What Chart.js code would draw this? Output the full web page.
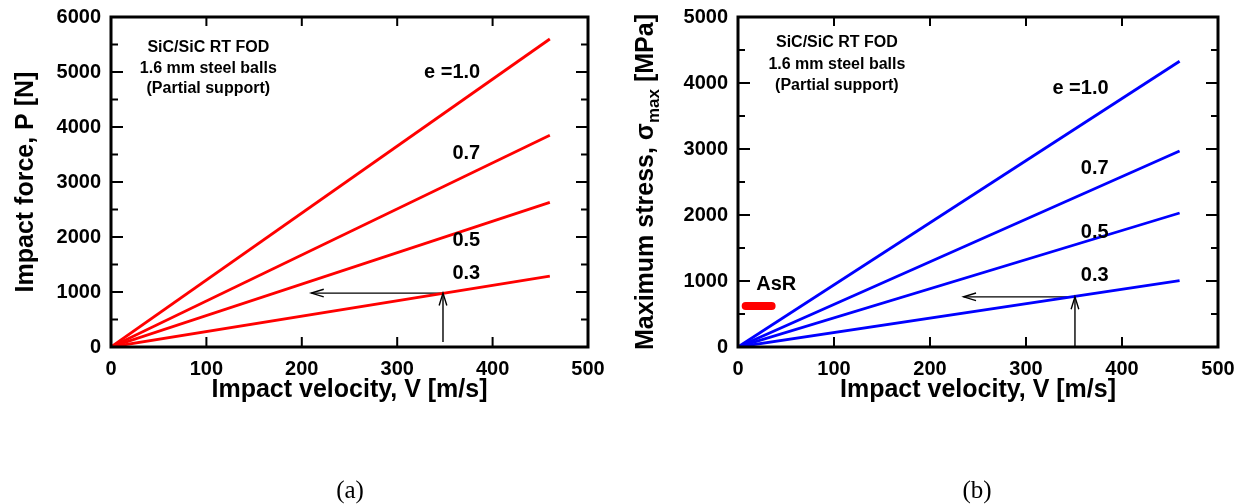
<!DOCTYPE html>
<html>
<head>
<meta charset="utf-8">
<script src="https://cdn.jsdelivr.net/npm/chart.js@4.4.1/dist/chart.umd.min.js"></script>
<style>
body { margin: 0; background: #fff; width: 1244px; height: 504px; position: relative; overflow: hidden; }
canvas { position: absolute; top: 0; }
.cap { position: absolute; top: 475px; font: 25px "Liberation Serif", "Times New Roman", serif; line-height: 30px; transform: translateX(-50%); color: #000; }
</style>
</head>
<body>
<canvas id="left" width="622" height="504" style="left:0"></canvas>
<canvas id="right" width="622" height="504" style="left:622px"></canvas>
<div class="cap" style="left:350px">(a)</div>
<div class="cap" style="left:977px">(b)</div>
<script>
// impact velocity, m/s
const velocity = [0, 460]
// impact force P [N] for each restitution coefficient
const forceE10 = [0, 5600]
const forceE07 = [0, 3850]
const forceE05 = [0, 2630]
const forceE03 = [0, 1290]
// maximum stress [MPa]
const stressE10 = [0, 4330]
const stressE07 = [0, 2970]
const stressE05 = [0, 2030]
const stressE03 = [0, 1005]
// AsR strength band
const asrVelocity = [8, 35]
const asrStress = [620, 620]
// read-off arrows at V = 350 m/s
const arrowUpV = [348, 348]
const arrowUpP = [90, 980]
const arrowLeftV = [348, 210]
const arrowLeftP = [980, 980]
const arrowUpV2 = [351, 351]
const arrowUpS = [0, 760]
const arrowLeftV2 = [351, 235]
const arrowLeftS = [760, 760]

const velocityTicks = [100, 200, 300, 400]
const forceMajor = [1000, 2000, 3000, 4000, 5000]
const forceMinor = [500, 1500, 2500, 3500, 4500, 5500]
const stressMajor = [1000, 2000, 3000, 4000]
const stressMinor = [500, 1500, 2500, 3500, 4500]

const SANS = '"Liberation Sans", Arial, Helvetica, sans-serif'
const pts = (xs, ys) => xs.map((v, i) => ({ x: v, y: ys[i] }))

function curve(xs, ys, color) {
    return { data: pts(xs, ys), borderColor: color, borderWidth: 2.8, pointRadius: 0, fill: false, tension: 0 }
}
function arrow(xs, ys) {
    return { data: pts(xs, ys), borderColor: '#000', borderWidth: 1.4, pointRadius: 0, fill: false }
}

// frame, inward ticks, arrow heads and texts (settings kept in a closure)
function makeDecor(opts) {
    return {
        id: 'decor',
        afterDatasetsDraw(chart) {
            const ctx = chart.ctx
            const a = chart.chartArea
            const sx = chart.scales.x, sy = chart.scales.y
            ctx.save()

            ctx.strokeStyle = '#000'
            ctx.lineWidth = 1.4
            opts.arrows.forEach(function (i) {
                const d = chart.getDatasetMeta(i).data
                const p = d[d.length - 1], q = d[d.length - 2]
                const ang = Math.atan2(p.y - q.y, p.x - q.x)
                ctx.beginPath()
                ctx.moveTo(p.x - 13 * Math.cos(ang - 0.3), p.y - 13 * Math.sin(ang - 0.3))
                ctx.lineTo(p.x, p.y)
                ctx.lineTo(p.x - 13 * Math.cos(ang + 0.3), p.y - 13 * Math.sin(ang + 0.3))
                ctx.stroke()
            })

            ctx.lineWidth = 2
            ctx.beginPath()
            opts.xTicks.forEach(function (v) {
                const px = sx.getPixelForValue(v)
                ctx.moveTo(px, a.bottom); ctx.lineTo(px, a.bottom - 10)
                ctx.moveTo(px, a.top); ctx.lineTo(px, a.top + 9)
            })
            opts.yMajor.forEach(function (v) {
                const py = sy.getPixelForValue(v)
                ctx.moveTo(a.left, py); ctx.lineTo(a.left + 12, py)
                ctx.moveTo(a.right, py); ctx.lineTo(a.right - 12, py)
            })
            opts.yMinor.forEach(function (v) {
                const py = sy.getPixelForValue(v)
                ctx.moveTo(a.left, py); ctx.lineTo(a.left + 7, py)
                ctx.moveTo(a.right, py); ctx.lineTo(a.right - 7, py)
            })
            ctx.stroke()

            ctx.lineWidth = 3
            ctx.strokeRect(a.left, a.top, a.right - a.left, a.bottom - a.top)

            ctx.fillStyle = '#000'
            ctx.textBaseline = 'middle'
            opts.notes.forEach(function (n) {
                ctx.font = n.font
                ctx.textAlign = n.align
                ctx.fillText(n.text, sx.getPixelForValue(n.x), sy.getPixelForValue(n.y))
            })

            ctx.font = 'bold 25px ' + SANS
            ctx.textAlign = 'center'
            ctx.textBaseline = 'alphabetic'
            ctx.fillText('Impact velocity, V [m/s]', (a.left + a.right) / 2, 397)

            // rotated y title with optional subscript
            ctx.translate(opts.yTitleX, (a.top + a.bottom) / 2)
            ctx.rotate(-Math.PI / 2)
            const widths = opts.yTitle.map(function (p) {
                ctx.font = 'bold ' + p.size + 'px ' + SANS
                return ctx.measureText(p.text).width
            })
            let cx = -widths.reduce((s, w) => s + w, 0) / 2
            ctx.textAlign = 'left'
            opts.yTitle.forEach(function (p, i) {
                ctx.font = 'bold ' + p.size + 'px ' + SANS
                ctx.fillText(p.text, cx, p.shift || 0)
                cx += widths[i]
            })
            ctx.restore()
        }
    }
}

const tickFont = { family: SANS, size: 20, weight: 'bold' }
const plainNumber = v => String(v)

function makeChart(id, cfg) {
    return new Chart(document.getElementById(id), {
        type: 'line',
        data: { datasets: cfg.datasets },
        options: {
            responsive: false,
            animation: false,
            layout: { padding: { top: 17, right: cfg.padRight, left: 0, bottom: 0 } },
            plugins: { legend: { display: false }, tooltip: { enabled: false } },
            scales: {
                x: {
                    type: 'linear', min: 0, max: 500,
                    ticks: { stepSize: 100, padding: 10, font: tickFont, color: '#000', maxRotation: 0, callback: plainNumber },
                    grid: { display: false, drawTicks: false },
                    border: { display: false },
                    afterFit: function (s) { s.height = 157; s.paddingLeft = 0; s.paddingRight = 0 }
                },
                y: {
                    type: 'linear', min: 0, max: cfg.yMax,
                    ticks: { stepSize: 1000, padding: 10, font: tickFont, color: '#000', callback: plainNumber },
                    grid: { display: false, drawTicks: false },
                    border: { display: false },
                    afterFit: function (s) { s.width = cfg.yWidth; s.paddingTop = 0; s.paddingBottom = 0 }
                }
            }
        },
        plugins: [makeDecor(cfg.decor)]
    })
}

const noteFont = 'bold 20px ' + SANS
const boxFont = 'bold 16px ' + SANS

makeChart('left', {
    yMax: 6000, yWidth: 111, padRight: 34,
    datasets: [
        curve(velocity, forceE10, '#ff0000'),
        curve(velocity, forceE07, '#ff0000'),
        curve(velocity, forceE05, '#ff0000'),
        curve(velocity, forceE03, '#ff0000'),
        arrow(arrowUpV, arrowUpP),
        arrow(arrowLeftV, arrowLeftP)
    ],
    decor: {
        arrows: [4, 5],
        xTicks: velocityTicks, yMajor: forceMajor, yMinor: forceMinor,
        yTitleX: 33,
        yTitle: [{ text: 'Impact force, P [N]', size: 25 }],
        notes: [
            { text: 'SiC/SiC RT FOD', x: 102, y: 5440, font: boxFont, align: 'center' },
            { text: '1.6 mm steel balls', x: 102, y: 5055, font: boxFont, align: 'center' },
            { text: '(Partial support)', x: 102, y: 4690, font: boxFont, align: 'center' },
            { text: 'e =1.0', x: 387, y: 5000, font: noteFont, align: 'right' },
            { text: '0.7', x: 387, y: 3510, font: noteFont, align: 'right' },
            { text: '0.5', x: 387, y: 1930, font: noteFont, align: 'right' },
            { text: '0.3', x: 387, y: 1345, font: noteFont, align: 'right' }
        ]
    }
})

makeChart('right', {
    yMax: 5000, yWidth: 116, padRight: 26,
    datasets: [
        curve(velocity, stressE10, '#0000ff'),
        curve(velocity, stressE07, '#0000ff'),
        curve(velocity, stressE05, '#0000ff'),
        curve(velocity, stressE03, '#0000ff'),
        arrow(arrowUpV2, arrowUpS),
        arrow(arrowLeftV2, arrowLeftS),
        { data: pts(asrVelocity, asrStress), borderColor: '#ff0000', borderWidth: 8, borderCapStyle: 'round', pointRadius: 0, fill: false }
    ],
    decor: {
        arrows: [4, 5],
        xTicks: velocityTicks, yMajor: stressMajor, yMinor: stressMinor,
        yTitleX: 31,
        yTitle: [
            { text: 'Maximum stress, σ', size: 25 },
            { text: 'max', size: 17, shift: 6 },
            { text: ' [MPa]', size: 25 }
        ],
        notes: [
            { text: 'SiC/SiC RT FOD', x: 103, y: 4606, font: boxFont, align: 'center' },
            { text: '1.6 mm steel balls', x: 103, y: 4273, font: boxFont, align: 'center' },
            { text: '(Partial support)', x: 103, y: 3955, font: boxFont, align: 'center' },
            { text: 'e =1.0', x: 386, y: 3924, font: noteFont, align: 'right' },
            { text: '0.7', x: 386, y: 2712, font: noteFont, align: 'right' },
            { text: '0.5', x: 386, y: 1742, font: noteFont, align: 'right' },
            { text: '0.3', x: 386, y: 1090, font: noteFont, align: 'right' },
            { text: 'AsR', x: 19, y: 940, font: noteFont, align: 'left' }
        ]
    }
})
</script>
</body>
</html>
